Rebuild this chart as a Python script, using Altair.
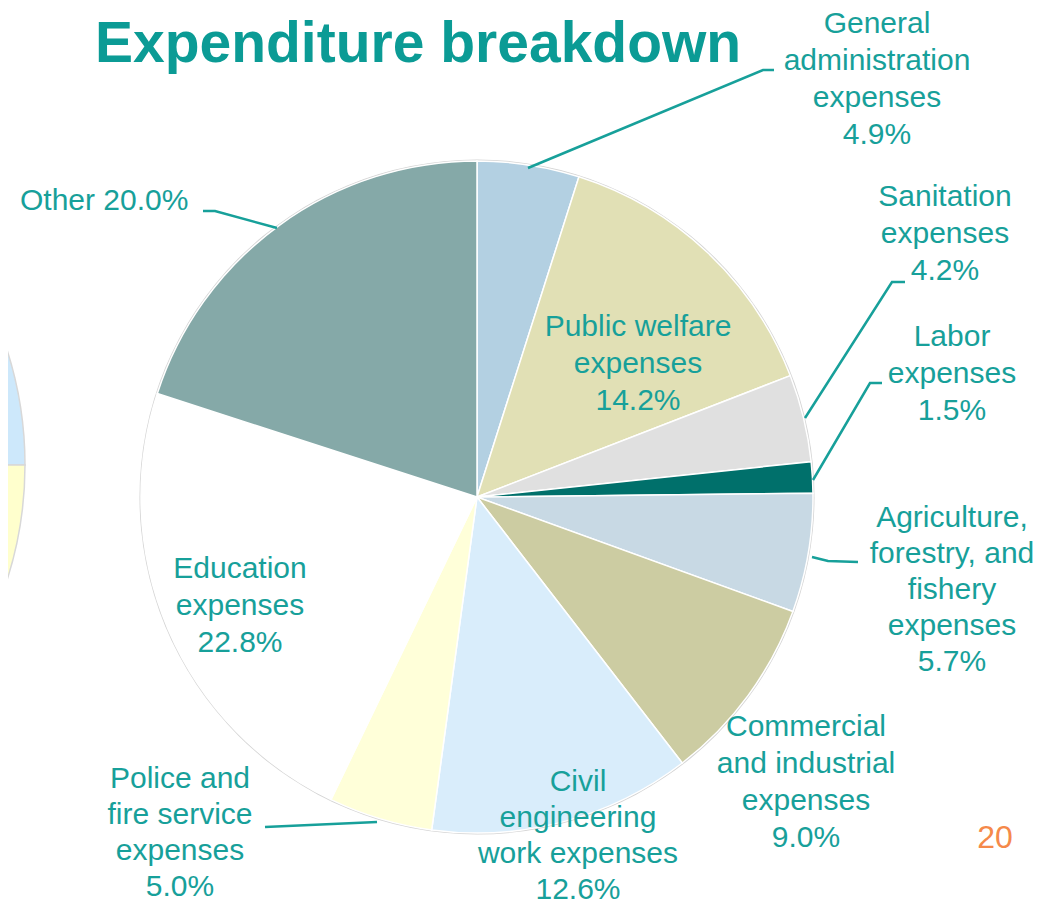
import math
import altair as alt
import pandas as pd

W, H = 1037, 893  # drawing area (page minus 8px margin)

# ---- data ----
categories = [
    "General administration expenses", "Public welfare expenses", "Sanitation expenses",
    "Labor expenses", "Agriculture, forestry, and fishery expenses",
    "Commercial and industrial expenses", "Civil engineering work expenses",
    "Police and fire service expenses", "Education expenses", "Other",
]
values = [4.9, 14.2, 4.2, 1.5, 5.7, 9.0, 12.6, 5.0, 22.8, 20.0]
label_names = [
    "General\nadministration\nexpenses", "Public welfare\nexpenses", "Sanitation\nexpenses",
    "Labor\nexpenses", "Agriculture,\nforestry, and\nfishery\nexpenses",
    "Commercial\nand industrial\nexpenses", "Civil\nengineering\nwork expenses",
    "Police and\nfire service\nexpenses", "Education\nexpenses", "Other",
]

# ---- styles / layout ----
colors = ["#b3d0e2", "#e1e0b5", "#e0e0e0", "#00706b", "#c8d9e4",
          "#cccca2", "#d9edfb", "#ffffd9", "#ffffff", "#85a9a8"]
teal = "#17a09a"
CX, CY, R = 477, 497, 336

# label positions: x centre, y of first line centre, line height (page px)
label_x = [877, 638, 945, 952, 952, 806, 578, 180, 240, 20]
label_y = [24, 327, 197, 337, 518, 727, 782, 779, 569, 201]
label_lh = [37, 37, 37, 37, 36, 37, 36, 36, 37, 37]
label_align = ["center"] * 9 + ["left"]

# leader lines (page px)
leader_pts = {
    0: [(528, 168), (763, 70), (774, 70)],
    2: [(805, 418), (892, 282), (905, 282)],
    3: [(813, 480), (870, 383), (882, 383)],
    4: [(812, 557), (828, 561), (858, 562)],
    7: [(265, 827), (377, 822)],
    9: [(203, 211), (215, 211), (277, 228)],
}

pie_df = pd.DataFrame({"cat": categories, "value": values, "idx": range(len(values))})

lab_rows = []
for i, (n, v) in enumerate(zip(label_names, values)):
    txt = f"{n} {v:.1f}%" if i == 9 else f"{n}\n{v:.1f}%"
    lab_rows.append({"t": txt, "x": label_x[i], "y": label_y[i], "al": label_align[i],
                     "lh": label_lh[i]})
lab_df = pd.DataFrame(lab_rows)

line_rows = []
for k, pts in leader_pts.items():
    for j, (x, y) in enumerate(pts):
        line_rows.append({"g": k, "o": j, "x": x, "y": y})
line_df = pd.DataFrame(line_rows)

xs = alt.Scale(domain=[8, 8 + W], range=[0, W])
ys = alt.Scale(domain=[8, 8 + H], range=[0, H])

# fragment of the neighbouring pie at the left edge
frag_blue = alt.Chart(pd.DataFrame({"a": [0]})).mark_arc(
    theta=0, theta2=math.pi / 2, radius=377, fill="#cde8fb", stroke="#d8d8d8", strokeWidth=1.5
).encode(x=alt.value(-352 - 8), y=alt.value(465 - 8))
frag_yellow = alt.Chart(pd.DataFrame({"a": [0]})).mark_arc(
    theta=math.pi / 2, theta2=math.pi, radius=377, fill="#ffffcd", stroke="#d8d8d8", strokeWidth=1.5
).encode(x=alt.value(-352 - 8), y=alt.value(465 - 8))

outline = alt.Chart(pd.DataFrame({"a": [0]})).mark_arc(
    theta=0, theta2=2 * math.pi, radius=R + 1.5, fill="#d4d4d4"
).encode(x=alt.value(CX - 8), y=alt.value(CY - 8))

pie = alt.Chart(pie_df).mark_arc(radius=R, stroke="white", strokeWidth=1.5).encode(
    theta=alt.Theta("value:Q", stack=True),
    order=alt.Order("idx:Q"),
    color=alt.Color("cat:N", scale=alt.Scale(domain=categories, range=colors), legend=None),
    x=alt.value(CX - 8),
    y=alt.value(CY - 8),
)

lines = alt.Chart(line_df).mark_line(color=teal, strokeWidth=2.5).encode(
    x=alt.X("x:Q", scale=xs, axis=None),
    y=alt.Y("y:Q", scale=ys, axis=None),
    detail="g:N",
    order="o:Q",
)

label_layers = []
for lh in sorted(set(label_lh)):
    sub = lab_df[(lab_df.al == "center") & (lab_df.lh == lh)]
    if len(sub):
        label_layers.append(alt.Chart(sub).mark_text(
            font="Liberation Sans", fontSize=30, color=teal, align="center", baseline="middle",
            lineBreak="\n", lineHeight=lh,
        ).encode(x=alt.X("x:Q", scale=xs, axis=None), y=alt.Y("y:Q", scale=ys, axis=None),
                 text="t:N"))

labels_l = alt.Chart(lab_df[lab_df.al == "left"]).mark_text(
    font="Liberation Sans", fontSize=30, color=teal, align="left", baseline="middle",
).encode(x=alt.X("x:Q", scale=xs, axis=None), y=alt.Y("y:Q", scale=ys, axis=None), text="t:N")

title_df = pd.DataFrame({"t": ["Expenditure breakdown"], "x": [95], "y": [45]})
title = alt.Chart(title_df).mark_text(
    font="Liberation Sans", fontSize=57, fontWeight="bold", color="#0b9b95",
    align="left", baseline="middle",
).encode(x=alt.X("x:Q", scale=xs, axis=None), y=alt.Y("y:Q", scale=ys, axis=None), text="t:N")

page_df = pd.DataFrame({"t": ["20"], "x": [995], "y": [838]})
page = alt.Chart(page_df).mark_text(
    font="Liberation Sans", fontSize=32, color="#f5894a", align="center", baseline="middle",
).encode(x=alt.X("x:Q", scale=xs, axis=None), y=alt.Y("y:Q", scale=ys, axis=None), text="t:N")

chart = alt.layer(
    frag_blue, frag_yellow, outline, pie, lines, *label_layers, labels_l, title, page
).properties(
    width=W, height=H, padding=0, autosize=alt.AutoSizeParams(type="none"), background="white"
).configure_view(stroke=None)

chart.save("out.html", embed_options={"renderer": "svg", "actions": False})
